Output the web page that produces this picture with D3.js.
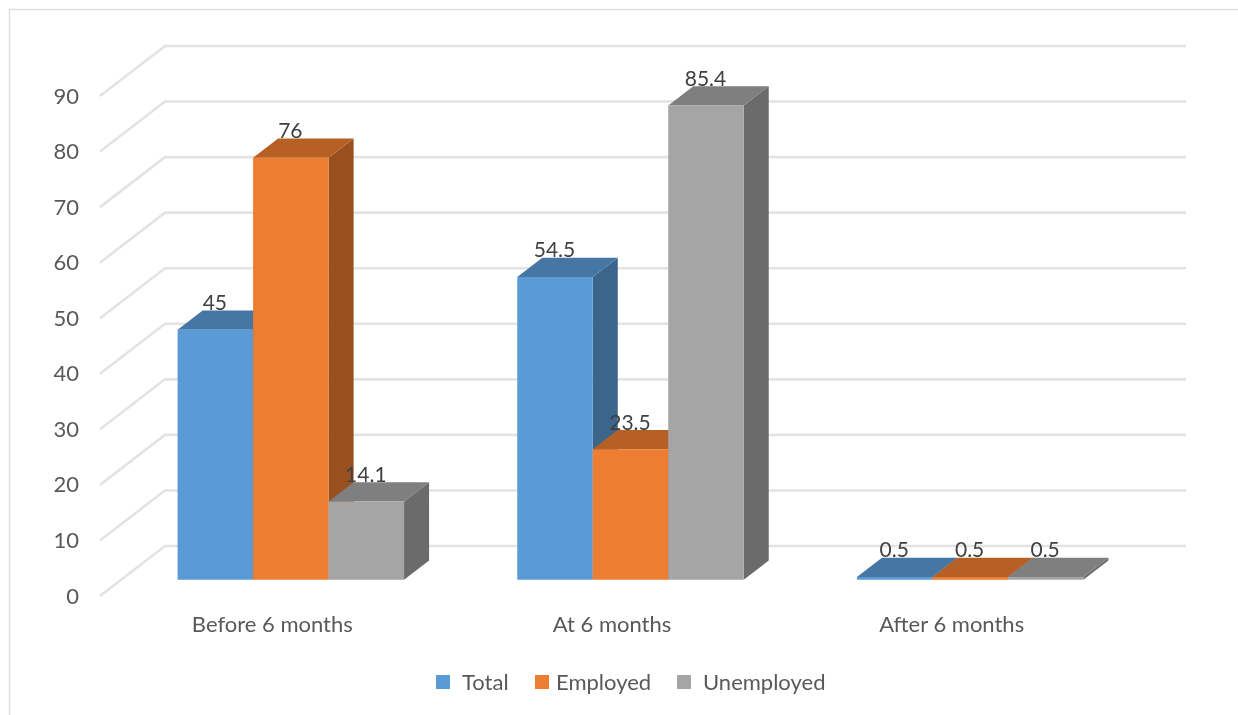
<!DOCTYPE html>
<html>
<head>
<meta charset="utf-8">
<script src="https://cdn.jsdelivr.net/npm/d3@7"></script>
<style>
html,body{margin:0;padding:0;background:#fff;overflow:hidden}
svg{display:block;filter:blur(0.4px)}
text{font-family:Lato,"Open Sans",sans-serif}
</style>
</head>
<body>
<svg id="chart" width="1238" height="715"></svg>
<script>
const categories = ["Before 6 months", "At 6 months", "After 6 months"];
const seriesNames = ["Total", "Employed", "Unemployed"];
const total = [45, 54.5, 0.5];
const employed = [76, 23.5, 0.5];
const unemployed = [14.1, 85.4, 0.5];
const yTicks = [0, 10, 20, 30, 40, 50, 60, 70, 80, 90];
const frontColors = ["#5B9BD5", "#ED7D31", "#A5A5A5"];
const topColors = ["#4676A3", "#B66026", "#7F7F7F"];
const sideColors = ["#3B658A", "#98501F", "#6B6B6B"];

const seriesValues = [total, employed, unemployed];
const svg = d3.select("#chart");

// projection of the 3D box: depth 0 = front of floor, depth 1 = back wall
const wallDx = 65, wallDy = -50;
const barDepthStart = 0.323, barDepthEnd = 0.708;
const shift = (p, d) => [p[0] + wallDx * d, p[1] + wallDy * d];

const y = d3.scaleLinear().domain([0, 90]).range([596, 96]);
const xFront = d3.scaleBand().domain(categories).range([100, 1119]).padding(0);
const xSeries = d3.scaleBand().domain(seriesNames)
  .range([56.6, xFront.bandwidth() - 56.6]).padding(0);

const line = d3.line();
const area = pts => line(pts) + "Z";

// frame
svg.append("path").attr("d", line([[9.5, 715], [9.5, 9.5], [1238, 9.5]]))
  .attr("fill", "none").attr("stroke", "#DEDEDE").attr("stroke-width", 1.5);

// gridlines: side wall + back wall
svg.append("g").selectAll("path").data(yTicks).join("path")
  .attr("d", v => line([[100, y(v)], shift([100, y(v)], 1), shift([1121, y(v)], 1)]))
  .attr("fill", "none").attr("stroke", "#E3E3E3").attr("stroke-width", 2.6);

// axes (labels only)
const yAxis = svg.append("g").attr("transform", "translate(88,0)")
  .call(d3.axisLeft(y).tickValues(yTicks).tickSize(0).tickPadding(9));
yAxis.select(".domain").remove();
yAxis.selectAll("text").attr("font-size", 22).attr("fill", "#595959").style("font-family", "Lato,sans-serif");

const xAxis = svg.append("g").attr("transform", "translate(2.5,616.5)")
  .call(d3.axisBottom(xFront).tickSize(0).tickPadding(0));
xAxis.select(".domain").remove();
xAxis.selectAll("text").attr("font-size", 22).attr("fill", "#595959").attr("dy", "0.71em").style("font-family", "Lato,sans-serif");

// bars
const bars = [];
seriesNames.forEach((s, si) => {
  categories.forEach((c, ci) => {
    bars.push({s, si, c, ci, v: seriesValues[si][ci]});
  });
});
const gBars = svg.append("g");
const gLabels = svg.append("g");
bars.forEach(b => {
  const x0 = xFront(b.c) + xSeries(b.s), x1 = x0 + xSeries.bandwidth();
  const yb = y(0), yt = y(b.v);
  const fbl = shift([x0, yb], barDepthStart), fbr = shift([x1, yb], barDepthStart);
  const ftl = shift([x0, yt], barDepthStart), ftr = shift([x1, yt], barDepthStart);
  const btl = shift([x0, yt], barDepthEnd), btr = shift([x1, yt], barDepthEnd);
  const bbr = shift([x1, yb], barDepthEnd);
  const g = gBars.append("g");
  g.append("path").attr("d", area([fbr, bbr, btr, ftr])).attr("fill", sideColors[b.si]);
  g.append("path").attr("d", area([ftl, ftr, btr, btl])).attr("fill", topColors[b.si]);
  g.append("path").attr("d", area([fbl, fbr, ftr, ftl])).attr("fill", frontColors[b.si]);
  gLabels.append("text")
    .attr("x", (ftl[0] + ftr[0]) / 2 - 0.5)
    .attr("y", btl[1] - 0.5)
    .attr("text-anchor", "middle")
    .attr("font-size", 21)
    .attr("fill", "#404040")
    .text(b.v);
});

// legend
const legendSquares = [436, 535, 677];
const legendTexts = [462, 556, 703];
const legend = svg.append("g");
seriesNames.forEach((s, i) => {
  legend.append("rect").attr("x", legendSquares[i]).attr("y", 675).attr("width", 14).attr("height", 14).attr("fill", frontColors[i]);
  legend.append("text").attr("x", legendTexts[i]).attr("y", 690).attr("font-size", 22).attr("fill", "#595959").text(s);
});
</script>
</body>
</html>
